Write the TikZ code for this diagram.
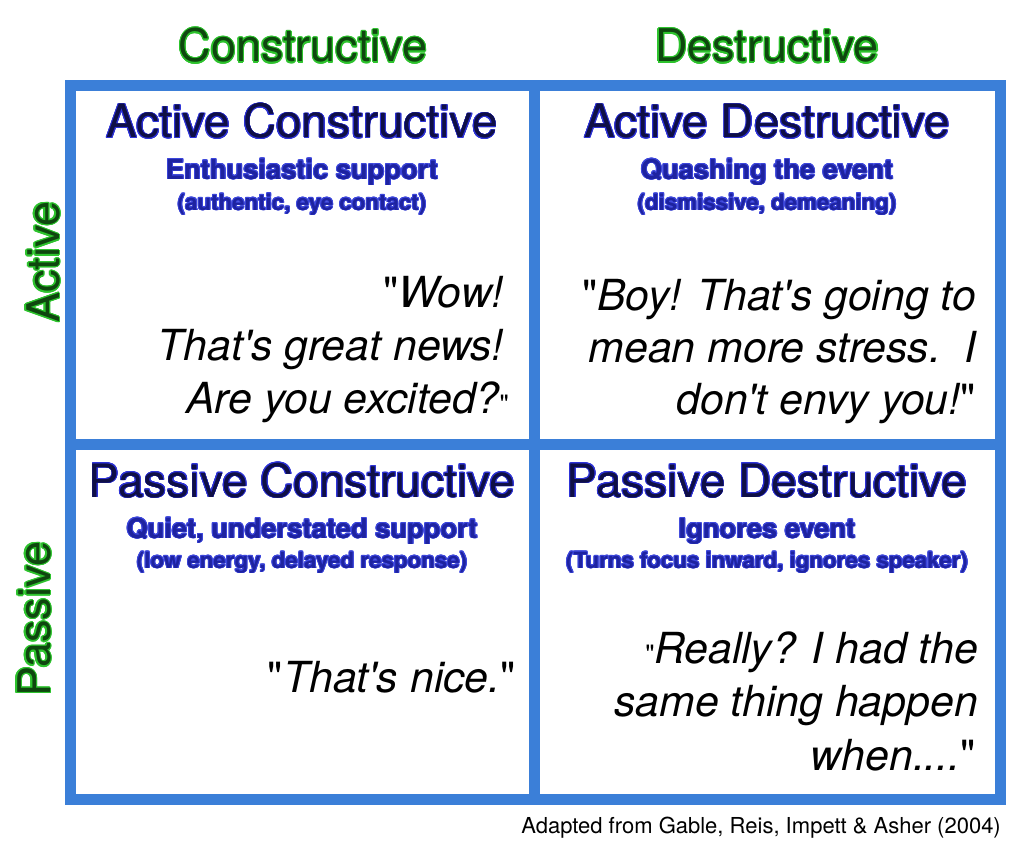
\documentclass[tikz,border=0pt]{standalone}
\usepackage{fontspec}
\usepackage{contour}
\newfontfamily\hv{TeX Gyre Heros}
\definecolor{frameblue}{RGB}{59,127,216}
\definecolor{axisgreen}{RGB}{45,195,45}
\definecolor{axisfill}{RGB}{15,70,15}
\definecolor{titleblue}{RGB}{45,50,215}
\definecolor{titlefill}{RGB}{15,15,70}
\definecolor{subblue}{RGB}{60,70,220}
\definecolor{subfill}{RGB}{30,35,160}
\contourlength{0.9pt}
\tikzset{
  frameline/.style={draw=frameblue, line width=11pt},
  axislabel/.style={font=\hv\fontsize{45}{54}\selectfont, text=axisfill, inner sep=0pt, anchor=base},
  celltitle/.style={font=\hv\fontsize{46}{55}\selectfont, text=titlefill, inner sep=0pt, anchor=base},
  cellsub/.style={font=\hv\bfseries\fontsize{27.3}{31}\selectfont, text=subfill, inner sep=0pt, anchor=base},
  cellparen/.style={font=\hv\bfseries\fontsize{22.3}{26}\selectfont, text=subfill, inner sep=0pt, anchor=base},
  quoteline/.style={font=\hv\itshape\fontsize{42.8}{53}\selectfont, text=black, inner sep=0pt, anchor=base east},
  footnote/.style={font=\hv\fontsize{22}{26}\selectfont, text=black, inner sep=0pt, anchor=base east}
}
\newcommand{\uq}{{\upshape"}}
\newcommand{\sq}{{\upshape\fontsize{26}{30}\selectfont"}}
\begin{document}
\begin{tikzpicture}[x=1pt,y=-1pt]
\useasboundingbox[fill=white] (0,0) rectangle (1024,853);
% grid
\draw[frameline] (70.5,85.5) rectangle (1000.5,799.5);
\draw[frameline] (534,85.5) -- (534,799.5);
\draw[frameline] (70.5,444) -- (1000.5,444);
% column headers
\node[axislabel] (hc) at (303,62) {\contourlength{1.1pt}\contour{axisgreen}{Constructive}};
\node[axislabel] (hd) at (767,62) {\contourlength{1.1pt}\contour{axisgreen}{Destructive}};
% row headers
\node[axislabel, rotate=90] (ra) at (59,262) {\contourlength{1.1pt}\contour{axisgreen}{Active}};
\node[axislabel, rotate=90] (rp) at (50,619) {\contourlength{1.1pt}\contour{axisgreen}{Passive}};
% active constructive
\node[celltitle] (t1) at (302,138) {\contour{titleblue}{Active Constructive}};
\node[cellsub] (s1) at (302,179) {\contour{subblue}{Enthusiastic support}};
\node[cellparen] (p1) at (302,210) {\contour{subblue}{(authentic, eye contact)}};
\node[quoteline] (q1a) at (504,307) {\uq Wow!};
\node[quoteline] (q1b) at (504,360) {That's great news!};
\node[quoteline] (q1c) at (509,413) {Are you excited?\sq};
% active destructive
\node[celltitle] (t2) at (767,138) {\contour{titleblue}{Active Destructive}};
\node[cellsub] (s2) at (767,179) {\contour{subblue}{Quashing the event}};
\node[cellparen] (p2) at (767,210) {\contour{subblue}{(dismissive, demeaning)}};
\node[quoteline] (q2a) at (976,310) {\uq Boy! That's going to};
\node[quoteline] (q2b) at (977,362) {mean more stress.\ \ I};
\node[quoteline] (q2c) at (976,414) {don't envy you!\uq};
% passive constructive
\node[celltitle] (t3) at (302,497) {\contour{titleblue}{Passive Constructive}};
\node[cellsub] (s3) at (302,538) {\contour{subblue}{Quiet, understated support}};
\node[cellparen] (p3) at (302,568) {\contour{subblue}{(low energy, delayed response)}};
\node[quoteline] (q3a) at (516,692) {\uq That's nice.\uq};
% passive destructive
\node[celltitle] (t4) at (767,497) {\contour{titleblue}{Passive Destructive}};
\node[cellsub] (s4) at (767,538) {\contour{subblue}{Ignores event}};
\node[cellparen] (p4) at (767,568) {\contour{subblue}{(Turns focus inward, ignores speaker)}};
\node[quoteline] (q4a) at (978,663) {\sq Really? I had the};
\node[quoteline] (q4b) at (978,716) {same thing happen};
\node[quoteline] (q4c) at (976,770) {when....\uq};
% source
\node[footnote] (src) at (1001,833) {Adapted from Gable, Reis, Impett \& Asher (2004)};
\end{tikzpicture}
\end{document}
